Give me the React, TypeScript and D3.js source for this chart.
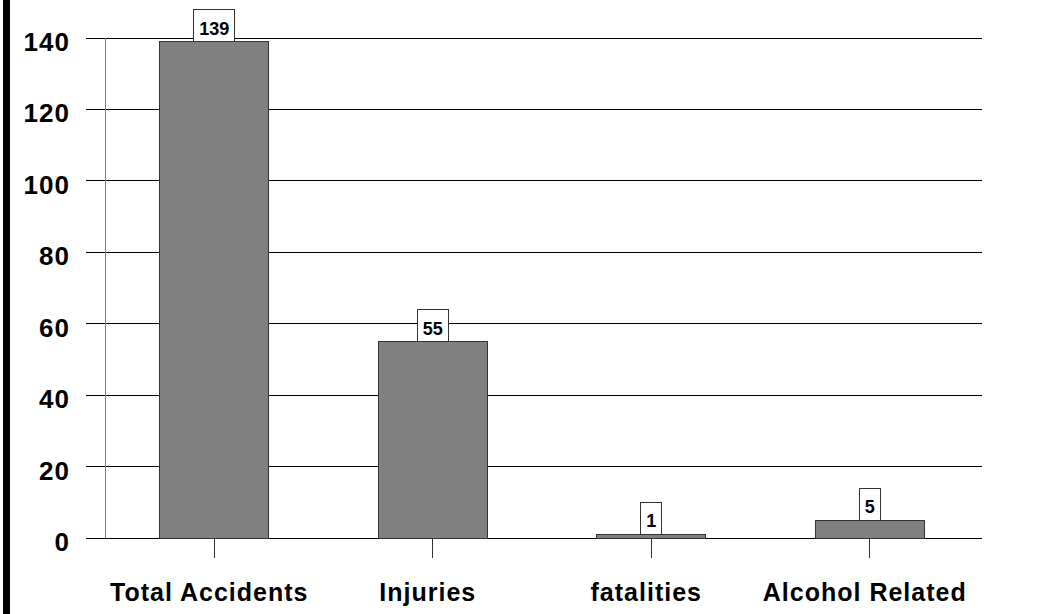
import React from 'react';
import * as d3 from 'd3';

const categories = ['Total Accidents', 'Injuries', 'fatalities', 'Alcohol Related'];
const values = [139, 55, 1, 5];
const yTicks = [0, 20, 40, 60, 80, 100, 120, 140];

const W = 1055;
const H = 614;

export default function App() {
  const x = d3.scaleBand<string>()
    .domain(categories)
    .range([105, 979])
    .paddingInner(0.5)
    .paddingOuter(0.25);

  const y = d3.scaleLinear().domain([0, 140]).range([538, 38]);

  const font = '"Liberation Sans", Arial, sans-serif';

  return (
    <svg width={W} height={H} style={{ position: 'absolute', left: 0, top: 0, background: '#fff' }}>
      <rect x={3} y={0} width={7} height={H} fill="#000" />

      {/* grid lines */}
      {yTicks.map((t) => (
        <line key={t} x1={86} x2={982} y1={y(t)} y2={y(t)} stroke="#000" strokeWidth={1} shapeRendering="crispEdges" />
      ))}
      <line x1={105} x2={105} y1={y(140)} y2={y(0)} stroke="#808080" strokeWidth={1} shapeRendering="crispEdges" />

      {/* y labels */}
      {yTicks.map((t) => (
        <text key={t} x={70} y={y(t) + 13} textAnchor="end" fontFamily={font} fontWeight="bold" fontSize={26} letterSpacing={1} fill="#000">
          {t}
        </text>
      ))}

      {/* bars */}
      {categories.map((c, i) => (
        <rect
          key={c}
          x={x(c)}
          y={y(values[i])}
          width={x.bandwidth()}
          height={y(0) - y(values[i])}
          fill="#808080"
          stroke="#333"
          strokeWidth={1}
          shapeRendering="crispEdges"
        />
      ))}

      {/* category ticks */}
      {categories.map((c) => {
        const cx = (x(c) as number) + x.bandwidth() / 2;
        return <line key={c} x1={cx} x2={cx} y1={538} y2={558} stroke="#333" strokeWidth={1} shapeRendering="crispEdges" />;
      })}

      {/* value labels */}
      {categories.map((c, i) => {
        const cx = (x(c) as number) + x.bandwidth() / 2;
        const label = String(values[i]);
        const bw = label.length * 10 + 11;
        const top = y(values[i]);
        return (
          <g key={c}>
            <rect x={cx - bw / 2} y={top - 32} width={bw} height={32} fill="#fff" stroke="#333" strokeWidth={1} shapeRendering="crispEdges" />
            <text x={cx} y={top - 7} textAnchor="middle" fontFamily={font} fontWeight="bold" fontSize={18} fill="#000">
              {label}
            </text>
          </g>
        );
      })}

      {/* category labels */}
      {categories.map((c) => {
        const cx = (x(c) as number) + x.bandwidth() / 2 - 5;
        return (
          <text key={c} x={cx} y={601} textAnchor="middle" fontFamily={font} fontWeight="bold" fontSize={25} letterSpacing={1} fill="#000">
            {c}
          </text>
        );
      })}
    </svg>
  );
}
